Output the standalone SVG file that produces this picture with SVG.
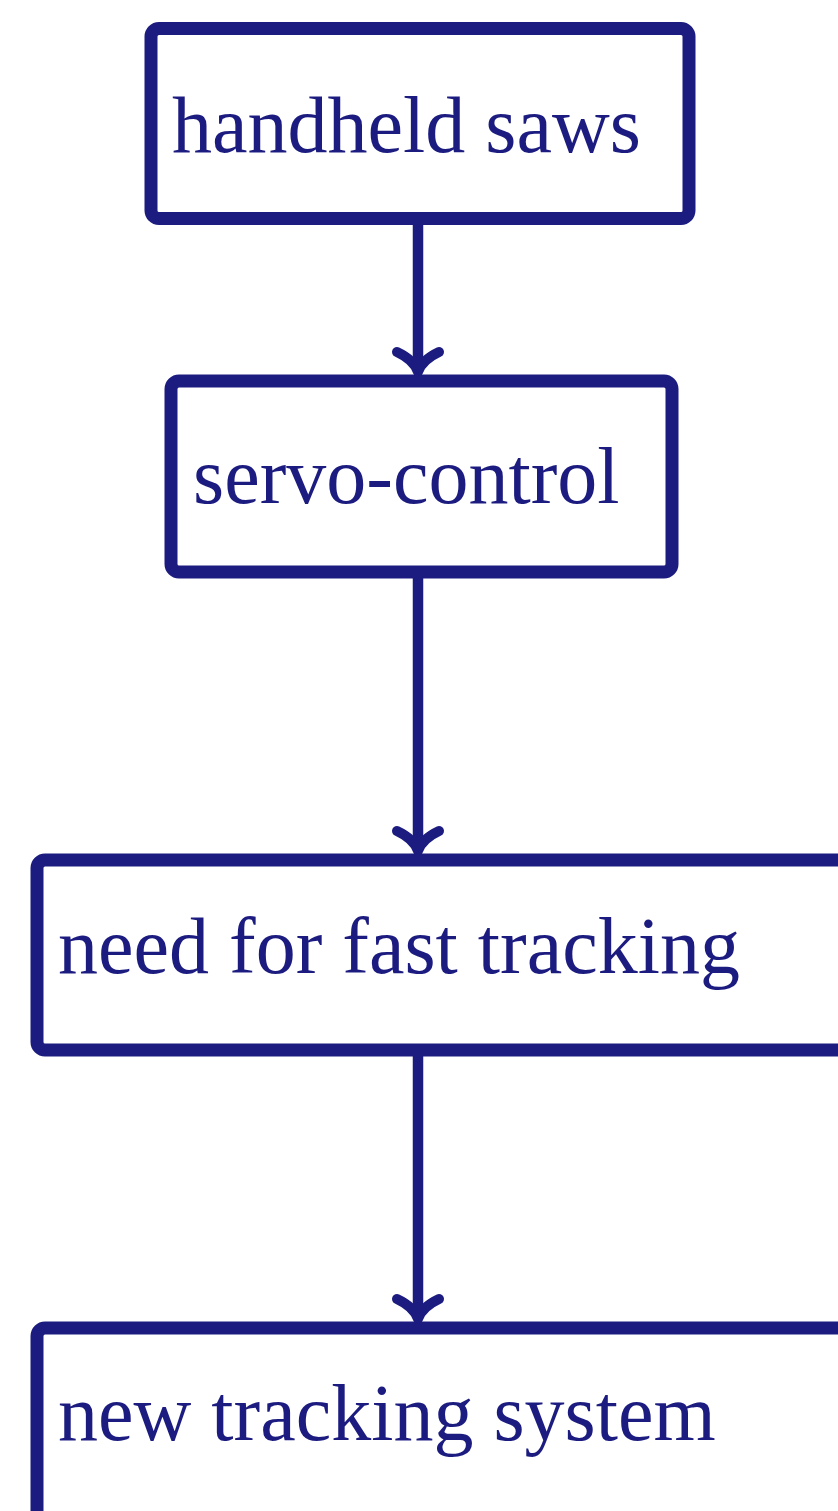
<svg xmlns="http://www.w3.org/2000/svg" width="838" height="1511" viewBox="0 0 838 1511">
<style>
.box{fill:#fff;stroke:#1c1c80;stroke-width:13}
.lbl{font-family:"Liberation Serif",serif;font-size:80px;fill:#1c1c80}
.edge{fill:none;stroke:#1c1c80;stroke-width:10.5}
.head{fill:none;stroke:#1c1c80;stroke-width:10;stroke-linecap:round;stroke-linejoin:round}
</style>
<rect width="838" height="1511" fill="#fff"/>
<g id="n1"><rect class="box" x="151" y="28.5" width="538" height="190" rx="8"/><text class="lbl" x="172" y="152">handheld saws</text></g>
<g id="n2"><rect class="box" x="171" y="381" width="501" height="191" rx="8"/><text class="lbl" x="193" y="503">servo-control</text></g>
<g id="n3"><rect class="box" x="37" y="860" width="813" height="190" rx="8"/><text class="lbl" x="58" y="973">need for fast tracking</text></g>
<g id="n4"><rect class="box" x="37" y="1328" width="813" height="200" rx="8"/><text class="lbl" x="58" y="1440">new tracking system</text></g>
<g id="edges">
<line class="edge" x1="418" y1="222" x2="418" y2="370"/>
<path class="head" d="M397,352 Q414,360 418,372 Q422,360 439,352"/>
<line class="edge" x1="418" y1="575" x2="418" y2="849"/>
<path class="head" d="M397,831 Q414,839 418,851 Q422,839 439,831"/>
<line class="edge" x1="418" y1="1054" x2="418" y2="1317"/>
<path class="head" d="M397,1299 Q414,1307 418,1319 Q422,1307 439,1299"/>
</g>
</svg>
